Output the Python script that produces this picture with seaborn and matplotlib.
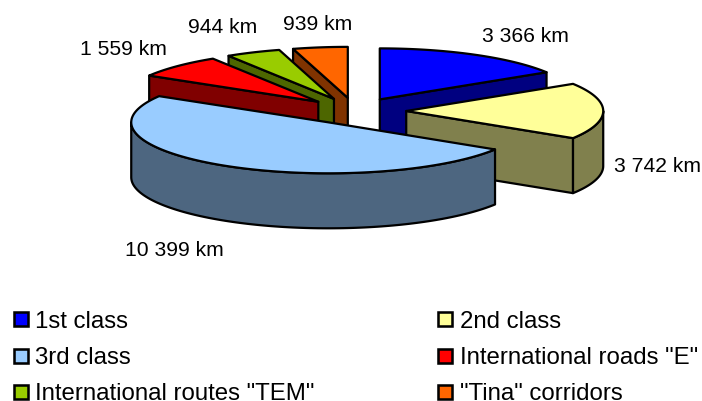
import numpy as np
import matplotlib
matplotlib.use("Agg")
import matplotlib.pyplot as plt
from matplotlib.patches import Polygon, Rectangle
import seaborn as sns

# Road network length by road category, km
categories = ["1st class", "2nd class", "3rd class",
              'International roads "E"', 'International routes "TEM"', '"Tina" corridors']
lengths_km = [3366, 3742, 10399, 1559, 944, 939]
slice_colors = ["#0000FF", "#FFFF99", "#99CCFF", "#FF0000", "#99CC00", "#FF6600"]
label_anchors = [(525, 42), (657.5, 172), (174, 256.5), (123, 55), (223, 33), (318, 30)]

sns.set_theme(style="white")
plt.rcParams["font.family"] = ["Liberation Sans", "DejaVu Sans"]

palette = sns.color_palette(slice_colors)
shades = [tuple(0.5 * c for c in col) for col in palette]

# Projection of the tilted pie onto the canvas
CX, CY = 355.0, 111.0
RX, RY = 197.0, 51.0
DEPTH = 55.0
EXPLODE = 0.26
LW = 1.6
LABEL_FONT = 15.2
KEY_FONT = 17.25

fig = plt.figure(figsize=(7.02, 4.01), dpi=100)
ax = fig.add_axes([0, 0, 1, 1])
ax.set_xlim(0, 702)
ax.set_ylim(401, 0)
ax.axis("off")


def rim(phi_deg, apex):
    phi = np.radians(phi_deg)
    return np.column_stack([apex[0] + RX * np.sin(phi), apex[1] - RY * np.cos(phi)])


def face(points, color):
    ax.add_patch(Polygon(points, closed=True, facecolor=color, edgecolor="black",
                         linewidth=LW, joinstyle="round"))


edges = np.concatenate([[0], np.cumsum(lengths_km)]) / np.sum(lengths_km) * 360.0
drop = np.array([0.0, DEPTH])


def draw_slice(i):
    start, end = edges[i], edges[i + 1]
    mid = np.radians((start + end) / 2)
    apex = np.array([CX + EXPLODE * RX * np.sin(mid), CY - EXPLODE * RY * np.cos(mid)])

    # Side walls that face the viewer
    for phi, visible in ((start, np.sin(np.radians(start)) < -1e-9),
                         (end, np.sin(np.radians(end)) > 1e-9)):
        if visible:
            corner = rim(np.array([phi]), apex)[0]
            face([apex, corner, corner + drop, apex + drop], shades[i])

    # Curved outer wall, front half only
    lo, hi = max(start, 90.0), min(end, 270.0)
    if lo < hi:
        arc = rim(np.linspace(lo, hi, 120), apex)
        face(np.vstack([arc, (arc + drop)[::-1]]), shades[i])

    # Top surface
    arc = rim(np.linspace(start, end, 160), apex)
    face(np.vstack([apex, arc]), palette[i])


# Painter's order: rear slices first, the large front slice last
for i in [5, 4, 3, 0, 1, 2]:
    draw_slice(i)

for value, (x, y) in zip(lengths_km, label_anchors):
    ax.text(x, y, f"{value:,}".replace(",", " ") + " km", ha="center", va="baseline",
            fontsize=LABEL_FONT, color="black")

# Two-column key below the pie
box_x = [14, 438]
text_x = [35, 459.5]
box_mid_y = [319, 355.5, 392]
baseline_y = [328, 364, 400]
for i, name in enumerate(categories):
    col, row = i % 2, i // 2
    ax.add_patch(Rectangle((box_x[col], box_mid_y[row] - 7), 14, 14, facecolor=palette[i],
                           edgecolor="black", linewidth=LW * 1.15))
    ax.text(text_x[col], baseline_y[row], name, ha="left", va="baseline",
            fontsize=KEY_FONT, color="black")

fig.savefig("out.png", dpi=100)
